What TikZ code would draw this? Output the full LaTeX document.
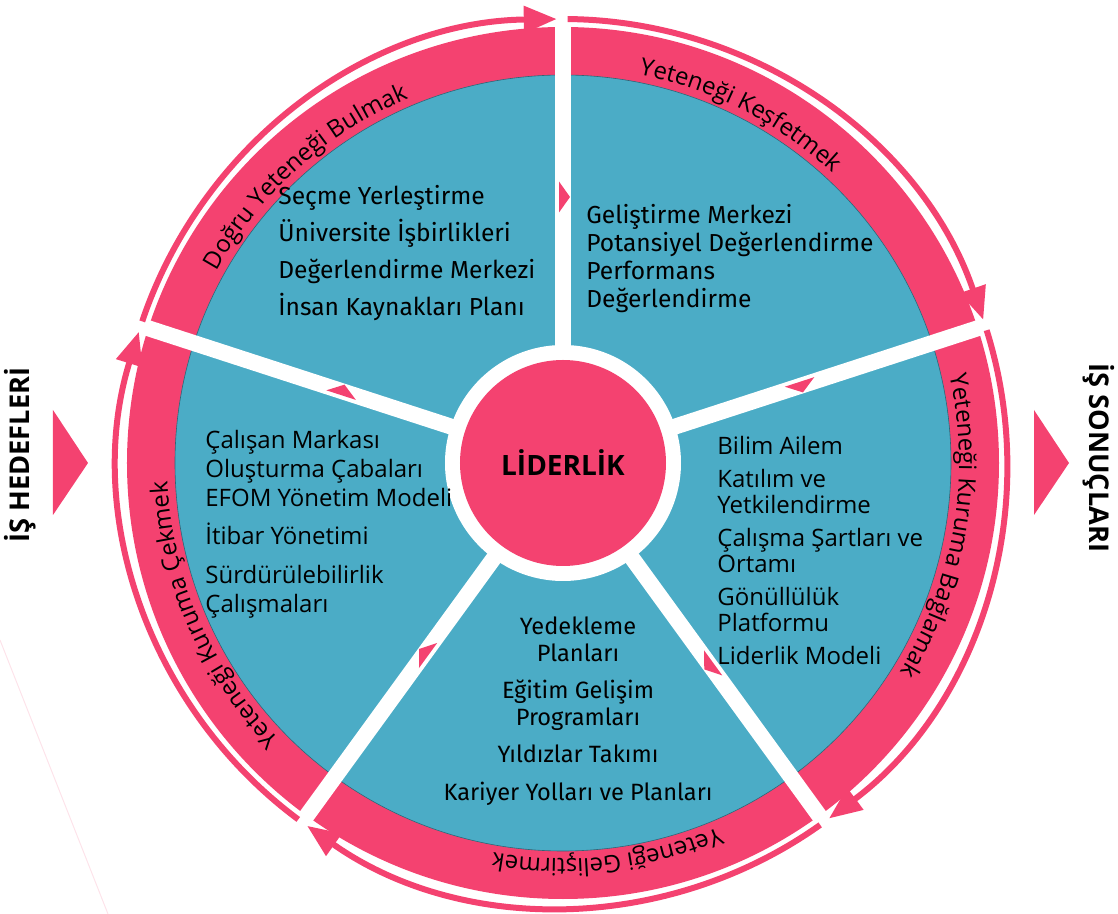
\documentclass[tikz,border=0pt]{standalone}
\usepackage{fontspec}
\setmainfont{Open Sans}
\newfontfamily\listfont{Fira Sans}
\usetikzlibrary{arrows.meta,decorations.text}
\definecolor{talentpink}{RGB}{244,66,112}
\definecolor{talentblue}{RGB}{75,172,198}
\tikzstyle{toplist} = [inner sep=0pt, align=left, anchor=base west, font=\listfont\fontsize{12.3}{14}\selectfont]
\tikzstyle{sidelist} = [inner sep=0pt, align=left, anchor=base west, font=\fontsize{12}{13}\selectfont]
\tikzstyle{spoke} = [draw=white, line width=8pt]
\tikzstyle{cyclearrow} = [draw=talentpink, line width=3pt, -{Triangle[length=16.5pt,width=13pt]}]
\tikzstyle{sidelabel} = [inner sep=0pt, font=\bfseries\fontsize{13.6}{15}\selectfont]
\newcommand{\ringlabel}[2]{\path[decorate, decoration={text along path, text align=center, text={|\fontsize{12}{14}\selectfont|#2}}] ({#1+40}:396) arc[start angle={#1+40}, end angle={#1-40}, radius=396];}

\begin{document}
\begin{tikzpicture}[x=0.5pt, y=0.5pt]
	\tikzset{pointer/.style={fill=talentpink}}
	\useasboundingbox (-563,-451) rectangle (555,463);
	\draw[talentpink!15, line width=0.5pt] (-563,-177) -- (-455,-451);
	\fill[talentpink] (0,0) circle[radius=436];
	\filldraw[fill=talentblue, draw=talentblue!60!black, line width=0.3pt] (0,0) circle[radius=388];
	\foreach \a in {90,18,-54,-126,162}
		\draw[spoke] (0,0) -- (\a:437);
	\node[circle, fill=white, minimum size=118pt, inner sep=0pt] (ring) at (0,0) {};
	\node[circle, fill=talentpink, minimum size=103pt, inner sep=0pt, font=\bfseries\fontsize{14}{16}\selectfont] (lead) at (ring) {LİDERLİK};
	\foreach \a/\r in {90/266,18/250,-54/250,-126/235,162/232}
		\fill[pointer, rotate=\a] (\r-15.5,4) -- (\r+15.5,4) -- (\r,-7) -- cycle;
	\foreach \s in {162,90,18,-54,-126}
		\draw[cyclearrow] ({\s-0.6}:444) arc[start angle={\s-0.6}, end angle={\s-72+0.8}, radius=444];
	\ringlabel{132}{Doğru Yeteneği Bulmak}
	\ringlabel{63}{Yeteneği Keşfetmek}
	\ringlabel{-9.5}{Yeteneği Kuruma Bağlamak}
	\ringlabel{-83.5}{Yeteneği Geliştirmek}
	\ringlabel{203.5}{Yeteneği Kuruma Çekmek}
	\node[toplist, font=\listfont\fontsize{12.3}{18.5}\selectfont] (find) at (-285,147) {Seçme Yerleştirme\\Üniversite İşbirlikleri\\Değerlendirme Merkezi\\İnsan Kaynakları Planı};
	\node[toplist] (discover) at (23,155) {Geliştirme Merkezi\\Potansiyel Değerlendirme\\Performans\\Değerlendirme};
	\node[sidelist] (bind) at (154,-202) {Bilim Ailem\\[3.5pt]Katılım ve\\Yetkilendirme\\[3.5pt]Çalışma Şartları ve\\Ortamı\\[3.5pt]Gönüllülük\\Platformu\\[3.5pt]Liderlik Modeli};
	\node[sidelist, font=\fontsize{12}{14.5}\selectfont] (attract) at (-358,-150) {Çalışan Markası\\Oluşturma Çabaları\\EFOM Yönetim Modeli\\[4.5pt]İtibar Yönetimi\\[5pt]Sürdürülebilirlik\\Çalışmaları};
	\node[toplist, align=center, anchor=base, font=\listfont\fontsize{11.8}{13.25}\selectfont] (develop) at (15,-337) {Yedekleme\\Planları\\[5.5pt]Eğitim Gelişim\\Programları\\[5.5pt]Yıldızlar Takımı\\[5.5pt]Kariyer Yolları ve Planları};
	\fill[talentpink] (-510,53) -- (-510,-52) -- (-475,0) -- cycle;
	\fill[talentpink] (471,53) -- (471,-52) -- (506,0) -- cycle;
	\node[sidelabel, rotate=90] (goals) at (-543,8) {İŞ HEDEFLERİ};
	\node[sidelabel, rotate=-90] (results) at (536,5) {İŞ SONUÇLARI};
\end{tikzpicture}
\end{document}
